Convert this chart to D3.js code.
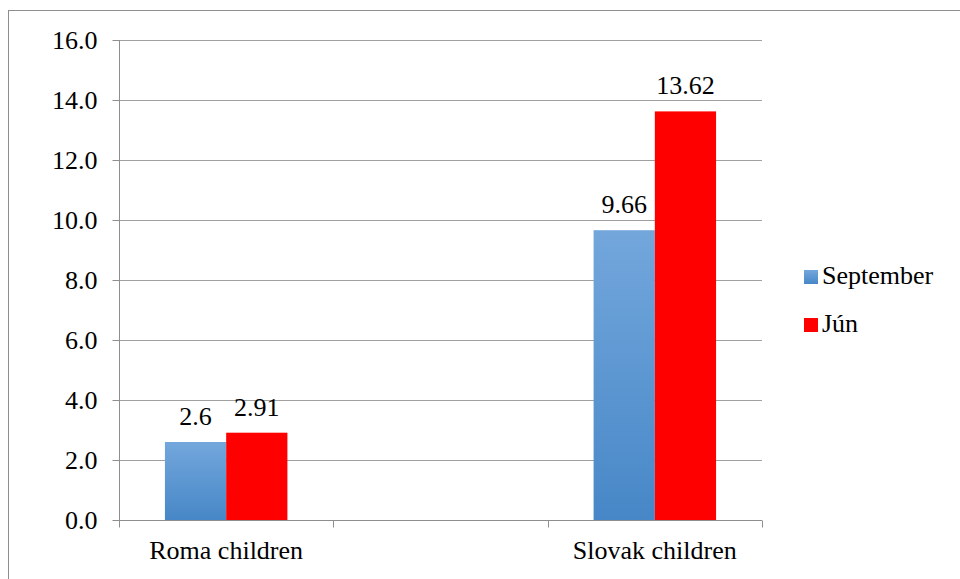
<!DOCTYPE html>
<html><head><meta charset="utf-8">
<script src="https://cdn.jsdelivr.net/npm/d3@7"></script>
<style>body{margin:0;background:#fff}svg{display:block}</style>
</head><body>
<script>
const categories = ["Roma children", "", "Slovak children"];
const seriesNames = ["September", "Jún"];
const september = [2.6, null, 9.66];
const jun = [2.91, null, 13.62];
const valueLabels = [["2.6", "", "9.66"], ["2.91", "", "13.62"]];
const yTicks = [0, 2, 4, 6, 8, 10, 12, 14, 16];

(function () {
const W = 960, H = 579;
const svg = d3.select("body").append("svg").attr("width", W).attr("height", H);
const font = "'Liberation Serif', 'DejaVu Serif', 'Noto Serif', 'Times New Roman', Times, serif";

const defs = svg.append("defs");
const g1 = defs.append("linearGradient").attr("id", "blueGrad").attr("x1", 0).attr("y1", 0).attr("x2", 0).attr("y2", 1);
g1.append("stop").attr("offset", "0%").attr("stop-color", "#73a7dc");
g1.append("stop").attr("offset", "100%").attr("stop-color", "#4787c7");

// outer border
svg.append("rect").attr("x", 8.5).attr("y", 10.5).attr("width", 1000).attr("height", 1000)
  .attr("fill", "none").attr("stroke", "#8e8e8e").attr("stroke-width", 1);

const pLeft = 119, pRight = 762, pTop = 40, pBottom = 520;
const x = d3.scaleBand().domain(categories).range([pLeft, pRight]);
const y = d3.scaleLinear().domain([0, 16]).range([pBottom, pTop]);
const inner = d3.scaleBand().domain([0, 1]).range([0, x.bandwidth()]).paddingOuter(0.75).paddingInner(0);

// gridlines
svg.append("g").selectAll("line").data(yTicks.filter(d => d > 0)).join("line")
  .attr("x1", pLeft).attr("x2", pRight)
  .attr("y1", d => Math.round(y(d)) + 0.5).attr("y2", d => Math.round(y(d)) + 0.5)
  .attr("stroke", "#a0a0a0").attr("stroke-width", 1);

// y axis
const yAxis = svg.append("g").attr("transform", `translate(${pLeft + 0.5},0)`)
  .call(d3.axisLeft(y).tickValues(yTicks).tickFormat(d3.format(".1f")).tickSize(7).tickPadding(15));
yAxis.attr("font-family", null).attr("font-size", null);
yAxis.select(".domain").attr("stroke", "#8e8e8e").attr("d", `M0,${pTop}V${pBottom}`);
yAxis.selectAll(".tick line").attr("stroke", "#8e8e8e");
yAxis.selectAll(".tick").attr("transform", d => `translate(0,${Math.round(y(d)) + 0.5})`);
yAxis.selectAll("text").style("font-family", font).style("font-size", "26px").attr("fill", "#000").attr("dy", "0.34em");

// x axis
const xAxis = svg.append("g").attr("transform", `translate(0,${pBottom + 0.5})`);
xAxis.append("line").attr("x1", pLeft).attr("x2", pRight).attr("stroke", "#8e8e8e");
const xTickPos = d3.range(categories.length + 1).map(i => pLeft + i * x.step());
xAxis.selectAll("line.t").data(xTickPos).join("line").attr("class", "t")
  .attr("x1", d => Math.round(d) + 0.5).attr("x2", d => Math.round(d) + 0.5)
  .attr("y1", 0).attr("y2", 7).attr("stroke", "#8e8e8e");
xAxis.selectAll("text").data(categories).join("text")
  .attr("x", d => x(d) + x.bandwidth() / 2).attr("y", 38)
  .attr("text-anchor", "middle").style("font-family", font).style("font-size", "26px").attr("fill", "#000")
  .text(d => d);

// bars
const series = [september, jun];
const fills = ["url(#blueGrad)", "#ff0000"];
series.forEach((vals, si) => {
  const g = svg.append("g");
  const pts = vals.map((v, i) => ({ v, i })).filter(d => d.v != null);
  g.selectAll("rect").data(pts).join("rect")
    .attr("x", d => x(categories[d.i]) + inner(si))
    .attr("y", d => y(d.v))
    .attr("width", inner.bandwidth())
    .attr("height", d => y(0) - y(d.v))
    .attr("fill", fills[si]);
  g.selectAll("text").data(pts).join("text")
    .attr("x", d => x(categories[d.i]) + inner(si) + inner.bandwidth() / 2)
    .attr("y", d => y(d.v) - 17)
    .attr("text-anchor", "middle").style("font-family", font).style("font-size", "26px").attr("fill", "#000")
    .text(d => valueLabels[si][d.i]);
});

// legend
const legend = svg.append("g").attr("transform", "translate(804,268)");
seriesNames.forEach((name, i) => {
  const row = legend.append("g").attr("transform", `translate(0,${i * 48})`);
  row.append("rect").attr("x", 0).attr("y", 2).attr("width", 14).attr("height", 14).attr("fill", fills[i]);
  row.append("text").attr("x", 18).attr("y", 16).style("font-family", font).style("font-size", "26px")
    .attr("fill", "#000").text(name);
});
})();
</script>
</body></html>
